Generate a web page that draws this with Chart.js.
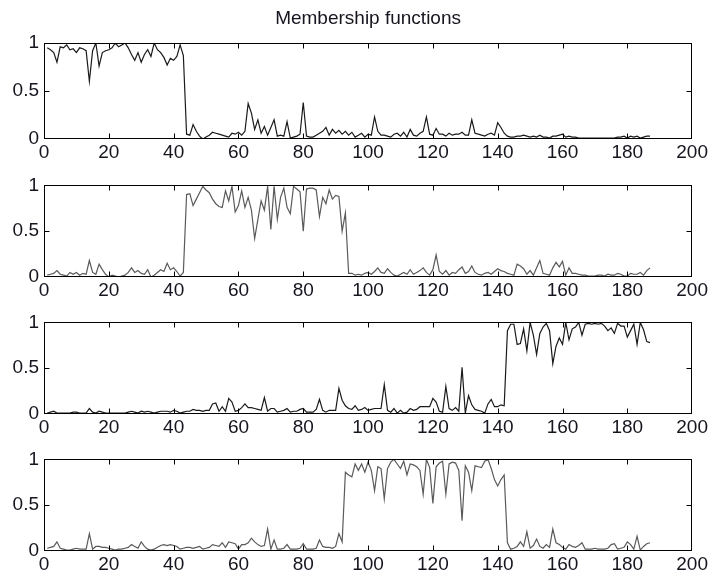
<!DOCTYPE html>
<html>
<head>
<meta charset="utf-8">
<script src="https://cdn.jsdelivr.net/npm/chart.js@4.4.1/dist/chart.umd.min.js"></script>
<style>
  html, body { margin: 0; padding: 0; background: #fff; }
  #wrap { position: relative; width: 710px; height: 577px; overflow: hidden; }
  canvas { position: absolute; left: 0; }
</style>
</head>
<body>
<div id="wrap">
  <canvas id="mf1" width="710" height="164" style="top:0px"></canvas>
  <canvas id="mf2" width="710" height="133" style="top:169px"></canvas>
  <canvas id="mf3" width="710" height="133" style="top:306px"></canvas>
  <canvas id="mf4" width="710" height="133" style="top:443px"></canvas>
</div>
<script>
//
// Membership functions - four stacked panels, MATLAB subplot look
//

const TITLE = 'Membership functions';
const xTickVals = [20, 40, 60, 80, 100, 120, 140, 160, 180];
const yTickVals = [0.5];

// membership values, one per sample (samples 1..187)
const mf1 = [
  0.95,0.93,0.90,0.80,0.96,0.95,0.98,0.93,0.94,0.90,
  0.95,0.94,0.92,0.60,0.92,1.00,0.76,0.90,0.92,0.93,
  0.95,1.00,0.96,0.98,1.00,0.95,0.88,0.82,0.90,0.80,
  0.88,0.93,0.86,1.00,0.93,0.90,0.85,0.77,0.84,0.82,
  0.86,0.98,0.87,0.05,0.04,0.15,0.08,0.03,0.00,0.02,
  0.04,0.07,0.06,0.05,0.04,0.03,0.02,0.06,0.05,0.07,
  0.04,0.08,0.37,0.27,0.10,0.20,0.06,0.13,0.04,0.12,
  0.20,0.03,0.04,0.03,0.18,0.01,0.02,0.03,0.05,0.38,
  0.03,0.02,0.02,0.04,0.06,0.08,0.12,0.04,0.10,0.06,
  0.09,0.05,0.08,0.04,0.07,0.02,0.04,0.06,0.02,0.05,
  0.04,0.23,0.08,0.04,0.04,0.03,0.02,0.05,0.06,0.03,
  0.07,0.02,0.10,0.04,0.03,0.06,0.08,0.23,0.05,0.04,
  0.11,0.05,0.05,0.03,0.06,0.04,0.05,0.05,0.07,0.04,
  0.04,0.20,0.06,0.05,0.04,0.03,0.05,0.06,0.04,0.17,
  0.12,0.06,0.03,0.02,0.02,0.03,0.03,0.04,0.03,0.02,
  0.03,0.02,0.04,0.02,0.02,0.01,0.03,0.03,0.04,0.05,
  0.02,0.03,0.02,0.02,0.01,0.01,0.01,0.01,0.01,0.01,
  0.01,0.01,0.01,0.01,0.01,0.01,0.02,0.02,0.03,0.01,
  0.03,0.02,0.03,0.01,0.02,0.03,0.03
];

const mf2 = [
  0.02,0.03,0.04,0.07,0.03,0.02,0.01,0.05,0.03,0.05,
  0.02,0.04,0.03,0.18,0.05,0.03,0.14,0.08,0.03,0.00,
  0.02,0.01,0.00,0.01,0.02,0.05,0.10,0.05,0.07,0.04,
  0.03,0.08,0.00,0.02,0.05,0.08,0.06,0.15,0.08,0.10,
  0.06,0.01,0.05,0.90,0.91,0.78,0.85,0.92,0.99,0.95,
  0.92,0.85,0.80,0.77,0.76,0.94,0.83,0.99,0.71,0.78,
  0.94,0.76,0.87,0.73,0.42,0.63,0.83,0.73,0.99,0.52,
  0.99,0.63,0.87,0.97,0.76,0.69,0.99,0.96,0.93,0.50,
  0.96,0.97,0.97,0.95,0.66,0.87,0.80,0.95,0.85,0.89,
  0.88,0.50,0.70,0.04,0.04,0.02,0.03,0.02,0.04,0.05,
  0.03,0.06,0.10,0.05,0.04,0.09,0.05,0.02,0.01,0.03,
  0.05,0.03,0.08,0.03,0.05,0.07,0.10,0.05,0.02,0.08,
  0.24,0.06,0.03,0.07,0.02,0.05,0.04,0.08,0.11,0.04,
  0.06,0.12,0.05,0.03,0.02,0.04,0.05,0.03,0.06,0.09,
  0.07,0.06,0.04,0.03,0.02,0.14,0.12,0.09,0.03,0.07,
  0.02,0.10,0.18,0.04,0.03,0.02,0.10,0.16,0.11,0.17,
  0.02,0.10,0.04,0.04,0.03,0.02,0.02,0.01,0.01,0.01,
  0.02,0.02,0.01,0.03,0.02,0.02,0.04,0.03,0.01,0.01,
  0.04,0.03,0.03,0.05,0.02,0.07,0.10
];

const mf3 = [
  0.01,0.02,0.03,0.01,0.01,0.01,0.01,0.01,0.02,0.02,
  0.01,0.01,0.01,0.06,0.02,0.01,0.03,0.02,0.01,0.01,
  0.01,0.01,0.01,0.01,0.01,0.02,0.03,0.02,0.01,0.03,
  0.02,0.03,0.02,0.01,0.02,0.03,0.03,0.03,0.02,0.04,
  0.03,0.01,0.02,0.03,0.03,0.05,0.04,0.04,0.03,0.04,
  0.04,0.11,0.12,0.03,0.08,0.03,0.17,0.13,0.03,0.04,
  0.07,0.11,0.07,0.07,0.06,0.05,0.04,0.18,0.03,0.06,
  0.06,0.02,0.03,0.04,0.06,0.02,0.03,0.03,0.05,0.06,
  0.02,0.02,0.02,0.05,0.16,0.04,0.02,0.04,0.04,0.04,
  0.28,0.15,0.09,0.06,0.05,0.09,0.04,0.05,0.07,0.04,
  0.05,0.06,0.06,0.06,0.32,0.04,0.02,0.06,0.01,0.04,
  0.01,0.02,0.06,0.04,0.05,0.08,0.08,0.08,0.08,0.17,
  0.13,0.03,0.02,0.30,0.06,0.04,0.07,0.03,0.51,0.01,
  0.20,0.10,0.05,0.04,0.03,0.01,0.11,0.16,0.08,0.08,
  0.10,0.09,0.91,0.98,0.98,0.76,0.77,0.93,0.69,1.00,
  0.86,0.65,0.88,0.95,0.99,0.91,0.55,0.74,0.83,0.76,
  1.00,0.81,0.93,0.95,1.00,0.86,0.98,0.99,0.98,0.99,
  0.98,0.99,0.96,0.91,0.94,0.88,0.99,0.96,0.96,0.84,
  0.91,0.98,0.76,1.00,0.92,0.79,0.78
];

const mf4 = [
  0.03,0.04,0.05,0.10,0.03,0.02,0.01,0.01,0.02,0.03,
  0.02,0.02,0.02,0.19,0.02,0.05,0.05,0.04,0.04,0.03,
  0.02,0.01,0.02,0.02,0.03,0.04,0.07,0.05,0.03,0.10,
  0.05,0.02,0.01,0.02,0.04,0.06,0.07,0.06,0.07,0.06,
  0.05,0.02,0.03,0.04,0.04,0.03,0.04,0.05,0.02,0.03,
  0.04,0.07,0.06,0.05,0.09,0.04,0.10,0.09,0.08,0.02,
  0.07,0.07,0.09,0.14,0.10,0.07,0.05,0.06,0.24,0.02,
  0.12,0.02,0.02,0.03,0.07,0.02,0.02,0.02,0.03,0.08,
  0.02,0.02,0.02,0.03,0.12,0.05,0.04,0.04,0.03,0.05,
  0.19,0.10,0.86,0.83,0.81,0.95,0.88,0.95,0.86,0.97,
  0.88,0.66,0.92,0.90,0.57,0.90,0.97,1.00,0.95,0.90,
  0.98,0.83,0.95,0.94,0.92,0.88,0.62,1.00,0.91,0.52,
  0.92,0.96,0.98,0.62,0.95,0.97,0.96,0.88,0.33,0.93,
  0.86,0.66,0.93,0.92,0.91,0.98,1.00,0.90,0.78,0.71,
  0.78,0.83,0.09,0.02,0.03,0.05,0.10,0.05,0.21,0.03,
  0.06,0.13,0.05,0.03,0.07,0.04,0.24,0.09,0.07,0.04,
  0.02,0.07,0.05,0.04,0.06,0.09,0.02,0.02,0.02,0.03,
  0.02,0.02,0.02,0.03,0.07,0.08,0.02,0.03,0.04,0.10,
  0.07,0.02,0.16,0.01,0.05,0.08,0.09
];

const FONT = { family: '"Liberation Sans", Arial, sans-serif', size: 19 };
const TEXT_COLOR = '#15151f';

// MATLAB style box with ticks pointing inwards
const matlabBox = {
  id: 'matlabBox',
  afterDraw(chart) {
    const ctx = chart.ctx;
    const a = chart.chartArea;
    const x = chart.scales.x, y = chart.scales.y;
    const l = Math.round(a.left) + 0.5, r = Math.round(a.right) - 0.5;
    const t = Math.round(a.top) + 0.5, b = Math.round(a.bottom) - 0.5;
    ctx.save();
    ctx.strokeStyle = '#000';
    ctx.lineWidth = 1;
    ctx.strokeRect(l, t, r - l, b - t);
    ctx.beginPath();
    xTickVals.forEach(v => {
      const px = Math.round(x.getPixelForValue(v)) + 0.5;
      ctx.moveTo(px, b); ctx.lineTo(px, b - 5);
      ctx.moveTo(px, t); ctx.lineTo(px, t + 5);
    });
    yTickVals.forEach(v => {
      const py = Math.round(y.getPixelForValue(v)) + 0.5;
      ctx.moveTo(l, py); ctx.lineTo(l + 5, py);
      ctx.moveTo(r, py); ctx.lineTo(r - 5, py);
    });
    ctx.stroke();
    ctx.restore();
  }
};

function makePanel(id, values, color, padTop, withTitle) {
  const pts = values.map((v, i) => ({ x: i + 1, y: v }));
  return new Chart(document.getElementById(id), {
    type: 'line',
    data: {
      datasets: [{
        data: pts,
        borderColor: color,
        borderWidth: 1.2,
        pointRadius: 0,
        tension: 0,
        fill: false
      }]
    },
    options: {
      responsive: false,
      animation: false,
      events: [],
      layout: { padding: { top: padTop, right: 17, left: 0, bottom: 0 } },
      plugins: {
        legend: { display: false },
        tooltip: { enabled: false },
        title: {
          display: withTitle,
          text: TITLE,
          color: TEXT_COLOR,
          fullSize: false,
          font: { family: FONT.family, size: 19, weight: 'normal' },
          padding: { top: 7, bottom: 13.2 }
        }
      },
      scales: {
        x: {
          type: 'linear', min: 0, max: 200,
          ticks: { stepSize: 20, padding: 2, color: TEXT_COLOR, font: FONT, maxRotation: 0, autoSkip: false },
          grid: { display: false, drawTicks: false },
          border: { display: false },
          afterFit: s => { s.height = 25; }
        },
        y: {
          min: 0, max: 1,
          ticks: { stepSize: 0.5, padding: 5, color: TEXT_COLOR, font: FONT, callback: v => String(v) },
          grid: { display: false, drawTicks: false },
          border: { display: false },
          afterFit: s => { s.width = 44; }
        }
      }
    },
    plugins: [matlabBox]
  });
}

makePanel('mf1', mf1, '#1a1a1a', 0, true);
makePanel('mf2', mf2, '#5a5a5a', 12, false);
makePanel('mf3', mf3, '#1a1a1a', 12, false);
makePanel('mf4', mf4, '#5a5a5a', 12, false);
</script>
</body>
</html>
